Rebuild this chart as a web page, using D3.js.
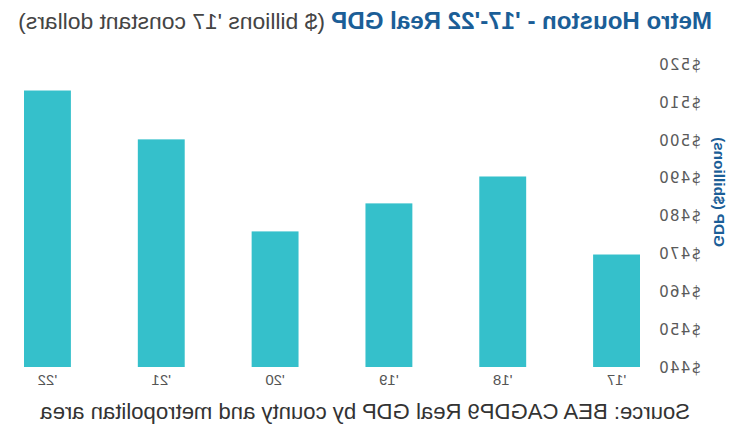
<!DOCTYPE html>
<html><head><meta charset="utf-8">
<script src="https://cdn.jsdelivr.net/npm/d3@7"></script>
<style>html,body{margin:0;padding:0;background:#fff;}svg{display:block;font-family:"Liberation Sans",Arial,sans-serif;}</style>
</head><body>
<script>
const categories = ["'17","'18","'19","'20","'21","'22"];
const gdpValues = [469.7, 490.3, 483.2, 475.8, 500.1, 513.0];
const yTicks = [440,450,460,470,480,490,500,510,520];
const yTickLabels = ["$440","$450","$460","$470","$480","$490","$500","$510","$520"];
const titleBold = "Metro Houston - '17-'22 Real GDP";
const titleRest = "($ billions '17 constant dollars)";
const yTitle = "GDP ($billions)";
const source = "Source: BEA CAGDP9 Real GDP by county and metropolitan area";

const W = 747, H = 445;
const svg = d3.select("body").append("svg").attr("width", W).attr("height", H);
svg.append("rect").attr("width", W).attr("height", H).attr("fill", "#fff");
// the reference picture is mirrored horizontally
const g = svg.append("g").attr("transform", `translate(${W},0) scale(-1,1)`);

const x = d3.scaleBand().domain(categories).range([107, 723]).paddingInner(0.588).paddingOuter(0);
const y = d3.scaleLinear().domain([440, 520]).range([367, 64]);

g.selectAll("rect.bar").data(gdpValues).join("rect")
  .attr("class", "bar")
  .attr("x", (d, i) => x(categories[i]))
  .attr("width", x.bandwidth())
  .attr("y", d => y(d))
  .attr("height", d => y(440) - y(d))
  .attr("fill", "#35c0cb");

const yAxis = d3.axisLeft(y).tickValues(yTicks).tickFormat((d, i) => yTickLabels[i]).tickSize(0).tickPadding(0);
const ya = g.append("g").attr("transform", "translate(89,0)").call(yAxis);
ya.select(".domain").remove();
ya.selectAll("text").attr("font-size", 15).attr("fill", "#5a5a5a")
  .attr("font-family", "DejaVu Sans, sans-serif").attr("letter-spacing", 1.2).attr("dy", "0.35em");

const xAxis = d3.axisBottom(x).tickSize(0).tickPadding(7);
const xa = g.append("g").attr("transform", `translate(0,${y(440)})`).call(xAxis);
xa.select(".domain").remove();
xa.selectAll("text").attr("font-size", 15).attr("fill", "#555").attr("font-family", "Liberation Sans, Arial, sans-serif");

function fitText(sel, target) {
  const w = sel.node().getComputedTextLength();
  const fs = +sel.attr("font-size");
  sel.attr("font-size", fs * target / w);
}

const t1 = g.append("text").attr("x", 35).attr("y", 29)
  .attr("font-size", 20).attr("font-weight", "bold").attr("fill", "#1b5e97").text(titleBold);
fitText(t1, 381);
const t2 = g.append("text").attr("x", 422).attr("y", 29)
  .attr("font-size", 18).attr("fill", "#444").text(titleRest);
fitText(t2, 307);

const yt = g.append("text").attr("transform", "translate(33,192) rotate(-90)")
  .attr("text-anchor", "middle").attr("font-size", 15).attr("font-weight", "bold")
  .attr("fill", "#1b5e97").text(yTitle);
fitText(yt, 110);

const s = g.append("text").attr("x", 57).attr("y", 419)
  .attr("font-size", 20).attr("fill", "#333").text(source);
fitText(s, 650);
</script>
</body></html>
